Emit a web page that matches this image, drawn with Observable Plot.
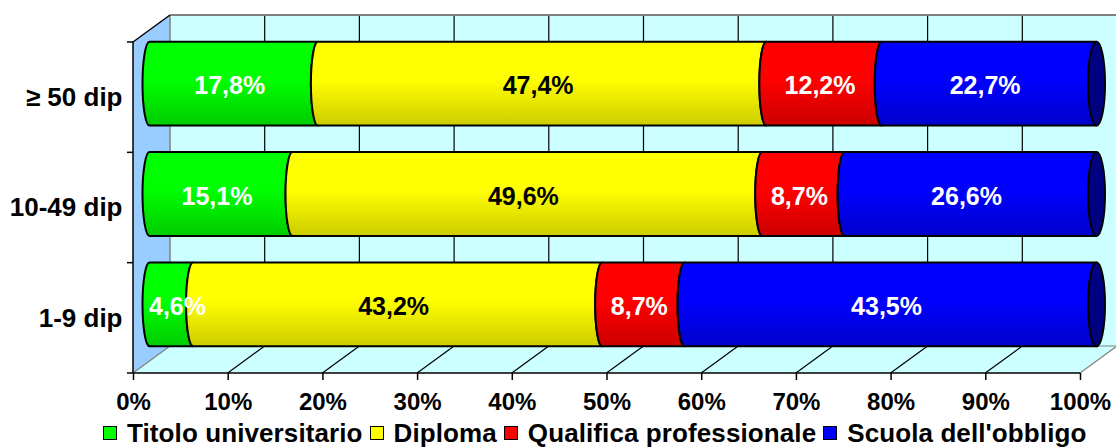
<!DOCTYPE html>
<html><head><meta charset="utf-8">
<script src="https://cdn.jsdelivr.net/npm/d3@7"></script>
<script src="https://cdn.jsdelivr.net/npm/@observablehq/plot@0.6"></script>
<style>
html,body{margin:0;padding:0;background:#fff;}
body{width:1116px;height:448px;overflow:hidden;font-family:"Liberation Sans",Arial,sans-serif;font-weight:bold;}
#legend{display:flex;align-items:center;height:30px;padding-left:103px;font-size:26px;letter-spacing:0.1px;color:#000;}
#legend .item{display:flex;align-items:center;margin-right:7px;}
#legend .sw{width:12px;height:12px;border:1px solid #000;margin-right:10px;}
</style></head><body>
<div id="chart"></div>
<div id="legend"></div>
<script>
const categories = ["≥ 50 dip", "10-49 dip", "1-9 dip"];
const seriesNames = ["Titolo universitario", "Diploma", "Qualifica professionale", "Scuola dell'obbligo"];
const titolo = [17.8, 15.1, 4.6];
const diploma = [47.4, 49.6, 43.2];
const qualifica = [12.2, 8.7, 8.7];
const scuola = [22.7, 26.6, 43.5];
const seriesColors = ["#00FF00", "#FFFF00", "#FF0000", "#0000FF"];
const capColors = ["#008000", "#808000", "#800000", "#000080"];
const labelColors = ["#FFFFFF", "#000000", "#FFFFFF", "#FFFFFF"];
const xTicks = [0, 0.1, 0.2, 0.3, 0.4, 0.5, 0.6, 0.7, 0.8, 0.9, 1];

const series = [titolo, diploma, qualifica, scuola];
const fmt = v => v.toFixed(1).replace(".", ",") + "%";

const DX = 37, DY = -27;

function walls(index, scales, values, dims) {
  const x = scales.x, y = scales.y;
  const g = d3.create("svg:g");
  const x0 = x(0), x1 = x(1);
  const yT = dims.marginTop, yB = dims.height - dims.marginBottom;
  const pts = a => a.map(p => p.join(",")).join(" ");
  g.append("polygon").attr("points", pts([[x0, yT], [x0 + DX, yT + DY], [x0 + DX, yB + DY], [x0, yB]])).attr("fill", "#99CCFF");
  g.append("rect").attr("x", x0 + DX).attr("y", yT + DY).attr("width", x1 - x0).attr("height", yB - yT).attr("fill", "#CCFFFF");
  g.append("polygon").attr("points", pts([[x0, yB], [x1, yB], [x1 + DX, yB + DY], [x0 + DX, yB + DY]])).attr("fill", "#CCFFFF");
  xTicks.forEach(t => {
    const edge = t === 0 || t === 1;
    g.append("line").attr("x1", x(t) + DX).attr("x2", x(t) + DX).attr("y1", yT + DY).attr("y2", yB + DY)
      .attr("stroke", edge ? "#808080" : "#000").attr("stroke-width", edge ? 1.5 : 1.2);
    g.append("line").attr("x1", x(t)).attr("x2", x(t) + DX).attr("y1", yB).attr("y2", yB + DY)
      .attr("stroke", edge ? "#808080" : "#000").attr("stroke-width", 1.2);
  });
  g.append("line").attr("x1", x0 + DX).attr("x2", x1 + DX).attr("y1", yT + DY).attr("y2", yT + DY).attr("stroke", "#808080").attr("stroke-width", 2);
  g.append("line").attr("x1", x0 + DX).attr("x2", x1 + DX).attr("y1", yB + DY).attr("y2", yB + DY).attr("stroke", "#808080").attr("stroke-width", 1);
  g.append("line").attr("x1", x0).attr("x2", x0 + DX).attr("y1", yT).attr("y2", yT + DY).attr("stroke", "#000").attr("stroke-width", 1.5);
  g.append("line").attr("x1", x0).attr("x2", x0).attr("y1", yT).attr("y2", yB).attr("stroke", "#000").attr("stroke-width", 1.5);
  g.append("line").attr("x1", x0).attr("x2", x1).attr("y1", yB).attr("y2", yB).attr("stroke", "#000").attr("stroke-width", 1.5);
  const bw = y.bandwidth();
  const bounds = categories.map(c => y(c)).concat([y(categories[categories.length - 1]) + bw]);
  bounds.forEach(b => {
    g.append("line").attr("x1", x0 - 6).attr("x2", x0).attr("y1", b).attr("y2", b).attr("stroke", "#000").attr("stroke-width", 1.5);
  });
  return g.node();
}

function bars(index, scales, values, dims) {
  const x = scales.x, y = scales.y;
  const g = d3.create("svg:g");
  const defs = g.append("defs");
  seriesColors.forEach((c, i) => {
    const lg = defs.append("linearGradient").attr("id", "cyl" + i).attr("x1", 0).attr("x2", 0).attr("y1", 0).attr("y2", 1);
    const dark = d3.interpolateRgb(c, "#000")(0.2);
    lg.append("stop").attr("offset", 0).attr("stop-color", c);
    lg.append("stop").attr("offset", 0.45).attr("stop-color", c);
    lg.append("stop").attr("offset", 1).attr("stop-color", dark);
  });
  const bw = y.bandwidth();
  const h = bw * 0.76, ry = h / 2, rx = 7, capRx = 8.5;
  const ox = DX / 2 - 2, oy = DY / 2;
  const labels = [];
  const fs = 25;
  categories.forEach((cat, ci) => {
    const vals = series.map(s => s[ci]);
    const total = d3.sum(vals);
    const cy = y(cat) + bw / 2 + oy;
    const top = cy - ry, bot = cy + ry;
    let cum = 0;
    vals.forEach((v, si) => {
      const a = x(cum / total) + ox; cum += v; const b = x(cum / total) + ox;
      g.append("path")
        .attr("d", `M${a},${top}L${b},${top}A${rx},${ry} 0 0 0 ${b},${bot}L${a},${bot}A${rx},${ry} 0 0 1 ${a},${top}Z`)
        .attr("fill", `url(#cyl${si})`).attr("stroke", "#000").attr("stroke-width", 2).attr("stroke-linejoin", "round");
      if (si === vals.length - 1) {
        g.append("ellipse").attr("cx", b).attr("cy", cy).attr("rx", capRx).attr("ry", ry)
          .attr("fill", capColors[si]).attr("stroke", "#000").attr("stroke-width", 2);
      }
      const halfW = fmt(v).length * fs * 0.58 / 2;
      const lx = Math.max((a + b) / 2 - 4, a + halfW - 1);
      labels.push({x: lx, y: cy + 4, v, si});
    });
  });
  labels.forEach(l => {
    g.append("text").attr("x", l.x).attr("y", l.y)
      .attr("text-anchor", "middle").attr("dominant-baseline", "middle")
      .attr("font-size", fs).attr("font-weight", "bold").attr("fill", labelColors[l.si])
      .text(fmt(l.v));
  });
  return g.node();
}

const chart = Plot.plot({
  width: 1116,
  height: 418,
  marginLeft: 133,
  marginRight: 36,
  marginTop: 42,
  marginBottom: 45,
  style: {fontFamily: "'Liberation Sans', Arial, sans-serif", background: "#fff", color: "#000"},
  x: {domain: [0, 1]},
  y: {type: "band", domain: categories, padding: 0, round: false},
  marks: [
    walls,
    bars,
    Plot.axisX({ticks: xTicks, tickFormat: d => Math.round(d * 100) + "%", tickSize: 7, tickPadding: 12, fontSize: 24, fontWeight: "bold", label: null, stroke: "#000", strokeWidth: 1.5}),
    Plot.axisY({tickSize: 0, tickPadding: 11, fontSize: 26, fontWeight: "bold", label: null})
  ]
});
document.getElementById("chart").appendChild(chart);

const legend = d3.select("#legend");
seriesNames.forEach((n, i) => {
  const it = legend.append("div").attr("class", "item");
  it.append("div").attr("class", "sw").style("background", seriesColors[i]);
  it.append("span").text(n);
});
</script>
</body></html>
